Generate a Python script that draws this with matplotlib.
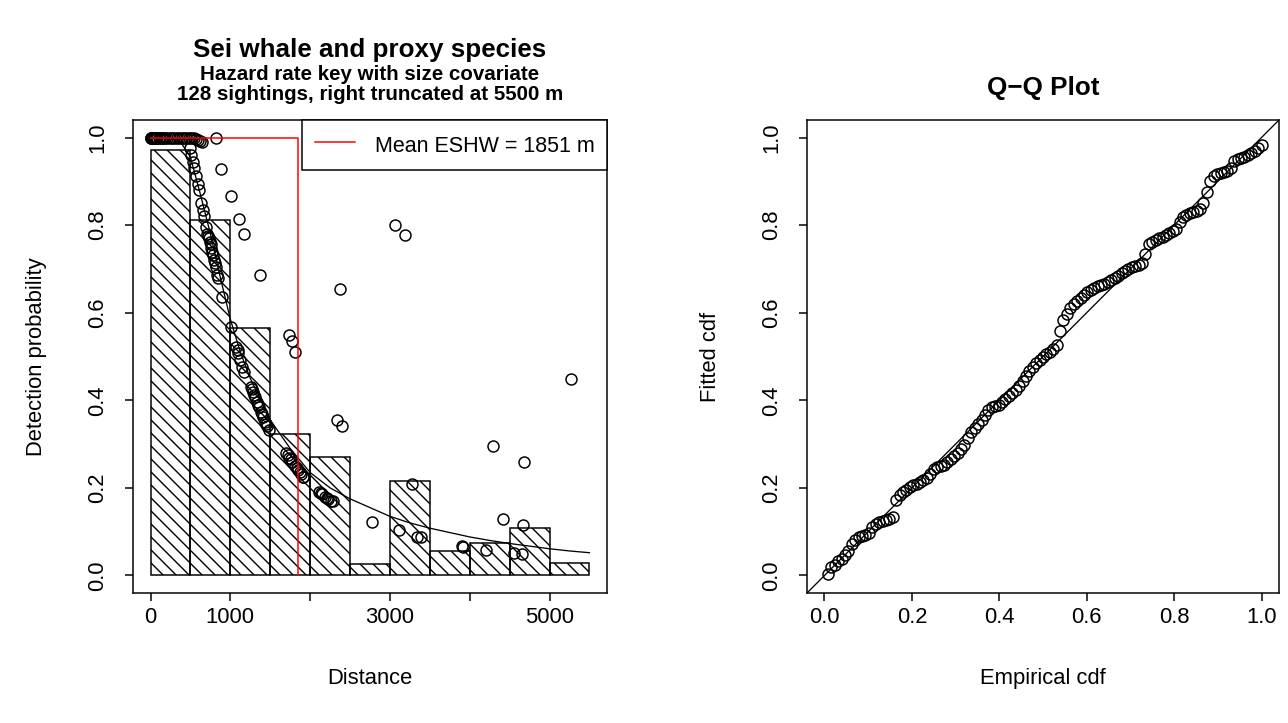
import numpy as np
import matplotlib
matplotlib.use("Agg")
import matplotlib.pyplot as plt
from matplotlib.collections import LineCollection

DPI = 78
W, H = 1288, 723
def px(v):  # pixels -> points
    return v * 72 / DPI

plt.rcParams["font.family"] = ["Liberation Sans", "DejaVu Sans"]

# ---- detection function panel ----
bin_left = [0, 500, 1000, 1500, 2000, 2500, 3000, 3500, 4000, 4500, 5000]
bin_height = [0.972, 0.811, 0.565, 0.323, 0.271, 0.027, 0.215, 0.055, 0.075, 0.109, 0.028]

curve_dist = [0, 125, 250, 375, 500, 625, 750, 875, 1000, 1125, 1250, 1500, 1750, 2000,
              2250, 2500, 2750, 3000, 3250, 3500, 3750, 4000, 4250, 4500, 4750, 5000, 5250, 5500]
curve_prob = [1.0, 1.0, 0.999, 0.99, 0.955, 0.87, 0.78, 0.68, 0.585, 0.51, 0.45, 0.355, 0.29, 0.235,
              0.20, 0.175, 0.155, 0.135, 0.12, 0.108, 0.098, 0.088, 0.080, 0.073, 0.067, 0.061, 0.056, 0.052]

sight_dist = [
    0, 5, 8, 15, 25, 35, 45, 55, 65, 70, 85, 100, 120, 140, 160, 185, 210, 240, 270, 300,
    330, 360, 390, 420, 450, 480, 510, 540, 565, 590, 620, 650,
    490, 510, 530, 550, 575, 590, 612, 637,
    660, 675, 700, 712, 725, 737, 750, 762, 762, 775, 787, 800, 812, 825, 837, 850, 900,
    1012, 1075, 1090, 1100, 1125, 1150, 1175,
    1262, 1275, 1287, 1300, 1312, 1337, 1350, 1362, 1387, 1400, 1412, 1437, 1450, 1462, 1487,
    1700, 1720, 1737, 1755, 1775, 1812, 1830, 1850, 1870, 1887, 1912, 1912,
    2112, 2130, 2150, 2187, 2205, 2225, 2262, 2287,
    825, 888, 1012, 1112, 1175, 1375, 1737, 1775, 1812, 2375, 2337, 2400, 2775,
    4287, 4675, 3275, 3112, 3337, 3387, 4412, 4662, 3900, 3912, 4200, 4550, 4650,
    3062, 3187, 5275]
sight_prob = [
    1.0, 1.0, 1.0, 1.0, 1.0, 1.0, 1.0, 1.0, 1.0, 1.0, 1.0, 1.0, 1.0, 1.0, 1.0, 1.0, 1.0, 1.0, 1.0, 1.0,
    1.0, 1.0, 1.0, 1.0, 1.0, 1.0, 0.999, 0.998, 0.997, 0.995, 0.992, 0.99,
    0.975, 0.96, 0.943, 0.93, 0.913, 0.895, 0.88, 0.85,
    0.835, 0.82, 0.795, 0.78, 0.775, 0.77, 0.762, 0.758, 0.747, 0.738, 0.731, 0.72, 0.713, 0.704, 0.686, 0.68, 0.636,
    0.567, 0.522, 0.515, 0.508, 0.492, 0.476, 0.465,
    0.43, 0.425, 0.419, 0.413, 0.408, 0.396, 0.39, 0.385, 0.374, 0.368, 0.362, 0.351, 0.347, 0.342, 0.333,
    0.28, 0.275, 0.269, 0.265, 0.26, 0.25, 0.245, 0.241, 0.236, 0.232, 0.226, 0.224,
    0.191, 0.188, 0.185, 0.18, 0.177, 0.175, 0.171, 0.169,
    1.0, 0.927, 0.866, 0.815, 0.78, 0.686, 0.549, 0.535, 0.51, 0.654, 0.355, 0.342, 0.123,
    0.296, 0.26, 0.21, 0.103, 0.089, 0.087, 0.13, 0.116, 0.068, 0.066, 0.059, 0.052, 0.05,
    0.80, 0.777, 0.449]

eshw = 1851

# ---- Q-Q panel: fitted cdf for each sighting, ordered ----
fitted_cdf = [
    0.003, 0.020, 0.025, 0.032, 0.037, 0.046, 0.055, 0.072, 0.080, 0.088,
    0.090, 0.092, 0.097, 0.110, 0.117, 0.121, 0.124, 0.127, 0.129, 0.133,
    0.173, 0.183, 0.191, 0.196, 0.201, 0.206, 0.210, 0.214, 0.218, 0.222,
    0.232, 0.243, 0.247, 0.250, 0.253, 0.258, 0.265, 0.272, 0.280, 0.289,
    0.299, 0.314, 0.327, 0.337, 0.346, 0.355, 0.366, 0.377, 0.384, 0.387,
    0.390, 0.397, 0.403, 0.409, 0.416, 0.424, 0.432, 0.443, 0.456, 0.467,
    0.477, 0.486, 0.493, 0.499, 0.505, 0.510, 0.517, 0.526, 0.558, 0.584,
    0.598, 0.610, 0.619, 0.627, 0.634, 0.641, 0.647, 0.652, 0.656, 0.660,
    0.663, 0.666, 0.670, 0.675, 0.680, 0.684, 0.690, 0.695, 0.700, 0.704,
    0.707, 0.710, 0.714, 0.735, 0.757, 0.761, 0.766, 0.770, 0.773, 0.777,
    0.781, 0.786, 0.792, 0.806, 0.818, 0.823, 0.827, 0.830, 0.833, 0.836,
    0.850, 0.876, 0.900, 0.911, 0.916, 0.919, 0.921, 0.924, 0.930, 0.947,
    0.950, 0.953, 0.956, 0.961, 0.965, 0.970, 0.976, 0.982]
n = len(fitted_cdf)
empirical_cdf = np.arange(1, n + 1) / n

FS = px(22)
LW = px(1.5)
HATCH_SP = 13.0  # px between hatch lines, like R's density shading

fig = plt.figure(figsize=(W / DPI, H / DPI), dpi=DPI)
ax1 = fig.add_axes([133 / W, 1 - 593 / H, (607 - 133) / W, (593 - 120) / H])
ax2 = fig.add_axes([807 / W, 1 - 593 / H, (1279 - 807) / W, (593 - 120) / H])

xlim1, ylim1 = (-220, 5720), (-0.04, 1.04)
ax1.set_xlim(*xlim1)
ax1.set_ylim(*ylim1)

bars = ax1.bar(bin_left, bin_height, width=500, align="edge", fill=False,
               edgecolor="black", linewidth=LW, zorder=3)

# R-style diagonal shading, clipped to each bar
bb = ax1.get_window_extent()
sx = bb.width / (xlim1[1] - xlim1[0])
sy = bb.height / (ylim1[1] - ylim1[0])
for rect in bars.patches:
    x0, w, h = rect.get_x(), rect.get_width(), rect.get_height()
    X0, X1, Yt = x0 * sx, (x0 + w) * sx, h * sy
    cs = np.arange(np.floor(X0 / HATCH_SP) * HATCH_SP, X1 + Yt + HATCH_SP, HATCH_SP)
    segs = [[((c - Yt) / sx, h), (c / sx, 0)] for c in cs]
    lc = LineCollection(segs, colors="black", linewidths=px(1.4), zorder=2)
    ax1.add_collection(lc, autolim=False)
    lc.set_clip_path(rect)

ax1.plot(curve_dist, curve_prob, color="black", lw=px(1.3), zorder=4)
ax1.plot(sight_dist, sight_prob, "o", mfc="none", mec="black", ms=px(11), mew=px(1.5), zorder=5)
ax1.plot([0, eshw, eshw], [1, 1, 0], color="red", lw=LW, label=f"Mean ESHW = {eshw} m", zorder=6)

ax1.set_xticks([0, 1000, 2000, 3000, 4000, 5000])
ax1.set_xticklabels(["0", "1000", "", "3000", "", "5000"])
ax1.set_yticks([0, 0.2, 0.4, 0.6, 0.8, 1.0])
ax1.set_yticklabels(["0.0", "0.2", "0.4", "0.6", "0.8", "1.0"])
ax1.set_xlabel("Distance", fontsize=FS, labelpad=px(40))
ax1.set_ylabel("Detection probability", fontsize=FS, labelpad=px(40))
leg = ax1.legend(loc="upper right", borderaxespad=0, fancybox=False, edgecolor="black",
                 framealpha=1, fontsize=px(21.5), handlelength=1.86, handletextpad=0.93,
                 handleheight=1.4, borderpad=0.58)
leg.get_frame().set_linewidth(LW)
leg.set_zorder(10)

ax2.plot(empirical_cdf, fitted_cdf, "o", mfc="none", mec="black", ms=px(11), mew=px(1.5))
ax2.axline((0, 0), slope=1, color="black", lw=px(1.3))
ax2.set_xlim(-0.04, 1.04)
ax2.set_ylim(-0.04, 1.04)
ticks = [0, 0.2, 0.4, 0.6, 0.8, 1.0]
tick_labels = ["0.0", "0.2", "0.4", "0.6", "0.8", "1.0"]
ax2.set_xticks(ticks)
ax2.set_xticklabels(tick_labels)
ax2.set_yticks(ticks)
ax2.set_yticklabels(tick_labels)
ax2.set_xlabel("Empirical cdf", fontsize=FS, labelpad=px(40))
ax2.set_ylabel("Fitted cdf", fontsize=FS, labelpad=px(40))

for ax in (ax1, ax2):
    for s in ax.spines.values():
        s.set_linewidth(LW)
    ax.tick_params(direction="out", length=px(8), width=LW, pad=px(6), labelsize=FS)
    ax.tick_params(axis="y", labelrotation=90, pad=px(17))
    for t in ax.get_yticklabels():
        t.set_va("center")

fig.text(370 / W, 1 - 50 / H, "Sei whale and proxy species", ha="center", va="center",
         fontsize=px(26), fontweight="bold")
fig.text(370 / W, 1 - 75 / H, "Hazard rate key with size covariate", ha="center", va="center",
         fontsize=px(20.5), fontweight="bold")
fig.text(370 / W, 1 - 94 / H, "128 sightings, right truncated at 5500 m", ha="center", va="center",
         fontsize=px(20.5), fontweight="bold")
fig.text(1043 / W, 1 - 88 / H, "Q\u2212Q Plot", ha="center", va="center",
         fontsize=px(26), fontweight="bold")

fig.savefig("out.png", dpi=DPI)
